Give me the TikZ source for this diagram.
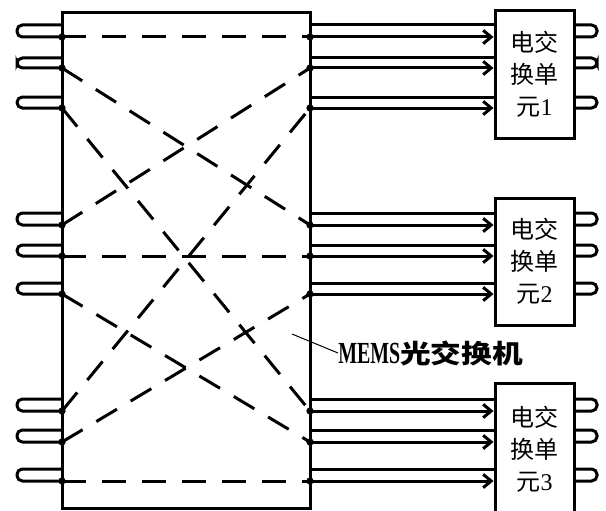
\documentclass[tikz,border=0pt]{standalone}
\usepackage{fontspec}
\usepackage{graphicx}
\setmainfont{Liberation Serif}
\newfontfamily\cjk{Noto Sans CJK SC}
\usetikzlibrary{arrows.meta}
\tikzset{
  fiber/.style={line width=2.25pt},
  link/.style={line width=2.25pt, dash pattern=on 18pt off 12pt},
  port/.style={circle,fill,inner sep=0pt,minimum size=5.5pt},
  unit/.style={draw,line width=2.25pt,minimum width=59.25pt,minimum height=95.25pt,
    align=center,inner sep=0pt,font=\fontsize{18}{24}\selectfont},
}
\begin{document}
\begin{tikzpicture}[x=0.75pt,y=-0.75pt]
            \useasboundingbox (0,0) rectangle (606,510);

            \draw[fiber] (62,13) rectangle (310,508);

            \node[unit] (u1) at (534.5,74.5) {{\cjk 电交}\\{\cjk 换单}\\{\cjk 元}1};
            \node[unit] (u2) at (534.5,261.5) {{\cjk 电交}\\{\cjk 换单}\\{\cjk 元}2};
            \node[unit,minimum height=99pt] (u3) at (534.5,449) {{\cjk 电交}\\{\cjk 换单}\\{\cjk 元}3};

            \foreach \i/\u/\d/\k in {1/25/37/1,2/58/68/1,3/97/108/1,
                                     4/213/225/2,5/245/256/2,6/283/294/2,
                                     7/399/411/3,8/430/442/3,9/469/481/3}{
              \coordinate (L\i) at (62,\d);
              \coordinate (R\i) at (310,\d);
              \coordinate (A\i) at (310,\u);
              \draw[fiber,rounded corners=4pt] (62,\u) -- (17,\u) -- (17,\d) -- (L\i);
              \draw[fiber] (A\i) -- (A\i -| u\k.west);
              \draw[fiber,-{Straight Barb[length=6pt,width=10pt]}] (R\i) -- (R\i -| u\k.west);
              \draw[fiber,rounded corners=4pt] (A\i -| u\k.east) -- (597,\u) -- (597,\d) -- (R\i -| u\k.east);
            }

            \foreach \a/\b in {1/1,2/4,3/7,4/2,5/5,6/8,7/3,8/6,9/9}
              \draw[link] (L\a) -- (R\b);

            \foreach \i in {1,...,9}{
              \node[port] (pl\i) at (L\i) {};
              \node[port] (pr\i) at (R\i) {};
            }

            \node[anchor=west,inner sep=0pt,font=\fontsize{23}{23}\selectfont\bfseries] (mems) at (338,353)
              {\scalebox{0.65}[1]{MEMS}\scalebox{1}[0.85]{\cjk\bfseries 光交换机}};
            \coordinate (tip) at (292,334);
            \draw[line width=0.75pt] (tip) -- (mems.west);

\end{tikzpicture}
\end{document}
